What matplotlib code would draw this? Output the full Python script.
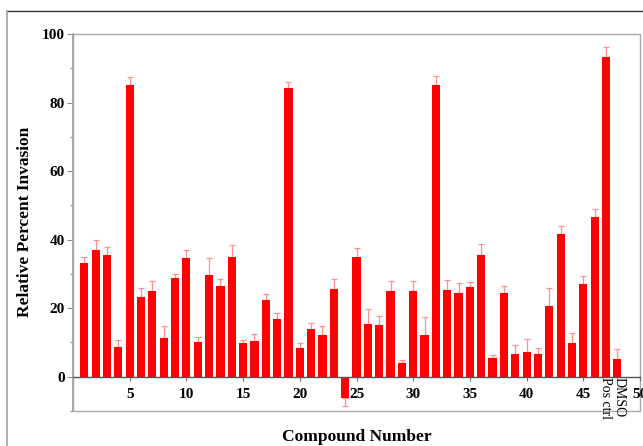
import matplotlib
matplotlib.use('Agg')
import matplotlib.pyplot as plt
import matplotlib.ticker as ticker
from matplotlib.patches import Rectangle
import numpy as np

plt.rcParams['font.family'] = ['Liberation Serif', 'DejaVu Serif']

# compound 1..46, then positive control and DMSO
compounds = list(range(1, 49))
invasion = [33.2, 36.9, 35.6, 8.8, 85.0, 23.3, 25.0, 11.3, 28.7, 34.7,
            10.2, 29.6, 26.6, 35.0, 9.8, 10.3, 22.3, 16.8, 84.3, 8.3,
            13.8, 12.1, 25.7, -6.3, 34.9, 15.5, 15.0, 25.1, 4.0, 25.0,
            12.2, 85.0, 25.3, 24.5, 26.3, 35.4, 5.5, 24.3, 6.5, 7.1,
            6.6, 20.7, 41.7, 9.9, 27.0, 46.7, 93.4, 5.2]
errors = [1.7, 2.9, 2.3, 1.8, 2.5, 2.7, 2.8, 3.4, 1.4, 2.3,
          1.5, 4.9, 1.8, 3.4, 0.8, 2.3, 1.8, 1.8, 1.8, 1.4,
          1.8, 2.8, 2.9, 2.3, 2.8, 4.4, 2.8, 2.9, 0.8, 2.9,
          5.3, 2.8, 2.9, 2.9, 1.4, 3.4, 0.9, 2.3, 2.8, 3.8,
          1.8, 5.2, 2.3, 2.8, 2.3, 2.3, 2.8, 2.8]
num_ticks = [5, 10, 15, 20, 25, 30, 35, 40, 45, 50]
ctrl_pos = [47, 48]
ctrl_labels = ['Pos ctrl', 'DMSO']

fig = plt.figure(figsize=(6.43, 4.46), dpi=100)
ax = fig.add_axes([73 / 643, 1 - 411 / 446, 567 / 643, 377 / 446])

vals = np.array(invasion)
errs = np.array(errors)
lower = np.where(vals < 0, errs, 0)
upper = np.where(vals >= 0, errs, 0)

ax.bar(compounds, invasion, width=0.72, color='#ff0000', zorder=2)
ax.errorbar(compounds, invasion, yerr=[lower, upper], fmt='none',
            ecolor='#ff9090', elinewidth=0.9, capsize=2, capthick=0.9, zorder=1)

ax.set_xlim(0, 50)
ax.set_ylim(-10, 100)

# zero line acts as the x axis
ax.spines['bottom'].set_position(('data', 0))
ax.spines['bottom'].set_color('#555555')
ax.spines['bottom'].set_linewidth(1.0)
for s in ['top', 'right']:
    ax.spines[s].set_visible(False)
ax.spines['left'].set_color('#a0a0a0')
ax.spines['left'].set_linewidth(1.2)
ax.add_patch(Rectangle((0, 0), 1, 1, transform=ax.transAxes, fill=False,
                       edgecolor='#a8a8a8', linewidth=1.0, clip_on=False, zorder=0))

ax.set_yticks([0, 20, 40, 60, 80, 100])
ax.yaxis.set_minor_locator(ticker.MultipleLocator(10))
ax.tick_params(axis='y', which='major', length=4, width=0.8, color='#909090', pad=2,
               labelsize=11)
ax.tick_params(axis='y', which='minor', length=2.5, width=0.8, color='#909090')
for lab in ax.get_yticklabels():
    lab.set_fontweight('bold')

ax.set_xticks(num_ticks)
ax.set_xticklabels([str(t) for t in num_ticks], fontweight='bold')
ax.tick_params(axis='x', which='major', length=3, width=0.8, color='#707070', pad=5,
               labelsize=11)

for x, lab in zip([47.0, 48.15], ctrl_labels):
    ax.text(x, -0.2, lab, rotation=270, ha='center', va='top', fontsize=10,
            linespacing=1.0)

fig.text(25 / 643, 1 - 222 / 446, 'Relative Percent Invasion', rotation=90,
         ha='center', va='center', fontsize=12.5, fontweight='bold')
fig.text(357 / 643, 1 - 437 / 446, 'Compound Number', ha='center', va='center',
         fontsize=12.5, fontweight='bold')

# outer frame around the figure panel
fig.add_artist(plt.Line2D([7 / 643, 1.0], [1 - 11 / 446, 1 - 11 / 446],
                          transform=fig.transFigure, color='#333333', linewidth=1.0))
fig.add_artist(plt.Line2D([7 / 643, 7 / 643], [0, 1 - 11 / 446],
                          transform=fig.transFigure, color='#a0a0a0', linewidth=1.2))

fig.savefig('out.png', dpi=100)
